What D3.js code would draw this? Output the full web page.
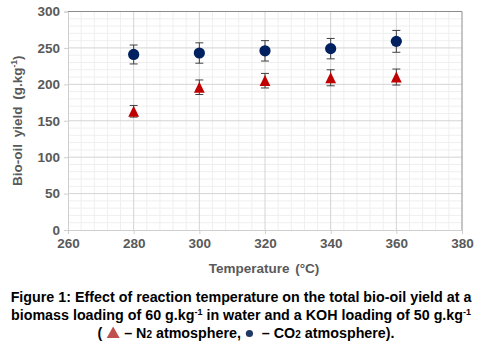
<!DOCTYPE html>
<html>
<head>
<meta charset="utf-8">
<script src="https://cdn.jsdelivr.net/npm/d3@7"></script>
<style>
  body { margin: 0; background: #fff; }
  svg { display: block; font-family: "Liberation Sans", Arial, sans-serif; }
</style>
</head>
<body>
<div id="chart"></div>
<script>
// Temperatures (°C)
const temperatures = [280, 300, 320, 340, 360];
// CO2 atmosphere yield (g/kg) and error
const co2Yield = [241, 243, 246, 249, 259];
const co2Err = [13, 14, 14, 14, 15];
// N2 atmosphere yield (g/kg) and error
const n2Yield = [163, 196, 205, 209, 210];
const n2Err = [8, 10, 10, 11, 11];

const xTicks = [260, 280, 300, 320, 340, 360, 380];
const yTicks = [0, 50, 100, 150, 200, 250, 300];

const W = 490, H = 349;
const margin = {left: 68, right: 28, top: 11.5, bottom: 119};
const plotW = W - margin.left - margin.right;
const plotH = H - margin.top - margin.bottom;

const svg = d3.select('#chart').append('svg')
    .attr('width', W)
    .attr('height', H);

const g = svg.append('g')
    .attr('transform', `translate(${margin.left},${margin.top})`);

const x = d3.scaleLinear().domain([260, 380]).range([0, plotW]);
const y = d3.scaleLinear().domain([0, 300]).range([plotH, 0]);

// minor grid
g.append('g')
    .selectAll('line')
    .data(d3.range(260, 381, 4).filter(v => v % 20 !== 0))
    .enter().append('line')
    .attr('x1', d => x(d)).attr('x2', d => x(d))
    .attr('y1', 0).attr('y2', plotH)
    .attr('stroke', '#efefef');
g.append('g')
    .selectAll('line')
    .data(d3.range(0, 301, 10).filter(v => v % 50 !== 0))
    .enter().append('line')
    .attr('x1', 0).attr('x2', plotW)
    .attr('y1', d => y(d)).attr('y2', d => y(d))
    .attr('stroke', '#efefef');

// major grid
g.append('g')
    .selectAll('line')
    .data(xTicks.slice(1, -1))
    .enter().append('line')
    .attr('x1', d => x(d)).attr('x2', d => x(d))
    .attr('y1', 0).attr('y2', plotH)
    .attr('stroke', '#d4d4d4');
g.append('g')
    .selectAll('line')
    .data(yTicks.slice(1, -1))
    .enter().append('line')
    .attr('x1', 0).attr('x2', plotW)
    .attr('y1', d => y(d)).attr('y2', d => y(d))
    .attr('stroke', '#d4d4d4');

// axes
const xAxis = g.append('g')
    .attr('transform', `translate(0,${plotH})`)
    .call(d3.axisBottom(x).tickValues(xTicks).tickSize(4).tickPadding(4));
const yAxis = g.append('g')
    .call(d3.axisLeft(y).tickValues(yTicks).tickSize(4).tickPadding(4));
[xAxis, yAxis].forEach(a => {
    a.select('.domain').attr('stroke', '#cfcfcf');
    a.selectAll('.tick line').attr('stroke', '#cfcfcf');
    a.selectAll('.tick text')
        .attr('fill', '#595959')
        .style('font-size', '13.5px')
        .style('font-weight', 'bold');
});

// top/right border
g.append('path')
    .attr('d', `M0,0H${plotW}V${plotH}`)
    .attr('fill', 'none')
    .attr('stroke', '#8c8c8c');

// error bars
function errorBars(vals, errs, cls) {
    const eg = g.append('g').attr('class', cls);
    const data = temperatures.map((t, i) => ({t, v: vals[i], e: errs[i]}));
    eg.selectAll('line.v').data(data).enter().append('line')
        .attr('x1', d => x(d.t)).attr('x2', d => x(d.t))
        .attr('y1', d => y(d.v - d.e)).attr('y2', d => y(d.v + d.e))
        .attr('stroke', '#404040');
    ['-', '+'].forEach(s => {
        eg.selectAll('line.c' + (s === '-' ? 'lo' : 'hi')).data(data).enter().append('line')
            .attr('x1', d => x(d.t) - 4).attr('x2', d => x(d.t) + 4)
            .attr('y1', d => y(s === '-' ? d.v - d.e : d.v + d.e))
            .attr('y2', d => y(s === '-' ? d.v - d.e : d.v + d.e))
            .attr('stroke', '#404040');
    });
}
errorBars(co2Yield, co2Err, 'err-co2');
errorBars(n2Yield, n2Err, 'err-n2');

// CO2 circles
g.selectAll('.co2').data(temperatures).enter().append('circle')
    .attr('class', 'co2')
    .attr('cx', d => x(d))
    .attr('cy', (d, i) => y(co2Yield[i]))
    .attr('r', 5.6)
    .attr('fill', '#002060');

// N2 triangles
g.selectAll('.n2').data(temperatures).enter().append('path')
    .attr('class', 'n2')
    .attr('transform', (d, i) => `translate(${x(d)},${y(n2Yield[i])})`)
    .attr('d', 'M0,-5.6L5.4,5.4L-5.4,5.4Z')
    .attr('fill', '#c00000');

// axis titles
svg.append('text')
    .attr('x', margin.left + plotW / 2 - 1)
    .attr('y', 273)
    .attr('text-anchor', 'middle')
    .attr('fill', '#595959')
    .style('font-size', '13.5px')
    .style('font-weight', 'bold')
    .style('word-spacing', '2px')
    .text('Temperature (°C)');

const yl = svg.append('text')
    .attr('transform', `translate(22,${margin.top + plotH / 2}) rotate(-90)`)
    .attr('text-anchor', 'middle')
    .attr('fill', '#595959')
    .style('font-size', '13.5px')
    .style('font-weight', 'bold')
    .style('word-spacing', '3px');
yl.append('tspan').text('Bio-oil yield (g.kg');
yl.append('tspan').attr('dy', -5).style('font-size', '8.5px').text('-1');
yl.append('tspan').attr('dy', 5).text(')');

// caption
const capSize = 14.3;
const cap = svg.append('g')
    .attr('fill', '#000')
    .style('font-size', capSize + 'px')
    .style('font-weight', 'bold');
cap.append('text')
    .attr('x', 241).attr('y', 302)
    .attr('text-anchor', 'middle')
    .text('Figure 1: Effect of reaction temperature on the total bio-oil yield at a');
const c2 = cap.append('text')
    .attr('x', 241).attr('y', 320)
    .attr('text-anchor', 'middle');
c2.append('tspan').text('biomass loading of 60 g.kg');
c2.append('tspan').attr('dy', -5).style('font-size', '9px').text('-1');
c2.append('tspan').attr('dy', 5).text(' in water and a KOH loading of 50 g.kg');
c2.append('tspan').attr('dy', -5).style('font-size', '9px').text('-1');

// third caption line: text pieces and legend symbols laid out in sequence
const line3 = [
    {t: '( '}, {sym: 'tri', w: 14}, {t: ' – N'}, {t: '2', sub: true},
    {t: ' atmosphere, '}, {sym: 'dot', w: 9}, {t: '  – CO'}, {t: '2', sub: true},
    {t: ' atmosphere).'}
];
const y3 = 338;
let cx = 0;
const placed = [];
line3.forEach(p => {
    if (p.sym) {
        placed.push({p, x: cx});
        cx += p.w;
    } else {
        const t = cap.append('text').attr('y', y3).attr('xml:space', 'preserve')
            .style('white-space', 'pre')
            .style('font-size', p.sub ? '10px' : null)
            .text(p.t);
        placed.push({p, x: cx, node: t});
        cx += t.node().getComputedTextLength();
    }
});
const start3 = 246 - cx / 2;
placed.forEach(d => {
    if (d.node) {
        d.node.attr('x', start3 + d.x);
    } else if (d.p.sym === 'tri') {
        cap.append('path')
            .attr('transform', `translate(${start3 + d.x + d.p.w / 2},${y3 - 5})`)
            .attr('d', 'M0,-6.5L6.5,5L-6.5,5Z')
            .attr('fill', '#c0504d');
    } else {
        cap.append('circle')
            .attr('cx', start3 + d.x + d.p.w / 2)
            .attr('cy', y3 - 4.5)
            .attr('r', 3.6)
            .attr('fill', '#1f3864');
    }
});
</script>
</body>
</html>
